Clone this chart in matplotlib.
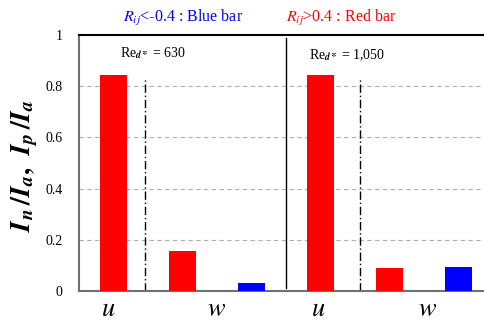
import matplotlib
matplotlib.use("Agg")
import matplotlib.pyplot as plt
import numpy as np

plt.rcParams['font.family'] = ['Liberation Serif', 'DejaVu Serif']
plt.rcParams['mathtext.fontset'] = 'stix'

# bar slots: u, w(red), w(blue) for each Re
heights = [0.844, 0.156, 0.031, 0.844, 0.091, 0.094]
colors = ['#ff0000', '#ff0000', '#0000ff', '#ff0000', '#ff0000', '#0000ff']
comp_labels = ['$u$', '$w$', '$u$', '$w$']
comp_pos = [-0.08, 1.5, 2.97, 4.55]
re_labels = [r'Re$_{\mathbfit{d*}}$ = 630', r'Re$_{\mathbfit{d*}}$ = 1,050']
yticks = [0, 0.2, 0.4, 0.6, 0.8, 1]

fig = plt.figure(figsize=(4.84, 3.23), dpi=100)
ax = fig.add_axes([0.1632, 0.0991, 0.8554, 0.7925])

x = np.arange(len(heights))
ax.bar(x, heights, width=0.4, color=colors, zorder=3)

ax.set_xlim(-0.5, 5.5)
ax.set_ylim(0, 1)
ax.set_yticks(yticks)
ax.set_yticklabels(['0', '0.2', '0.4', '0.6', '0.8', '1'], fontsize=10)
ax.yaxis.grid(True, color='#b0b0b0', linestyle=(0, (4, 3)), linewidth=0.8, zorder=0)
ax.tick_params(axis='y', length=0, pad=12)
ax.set_xticks(comp_pos)
ax.set_xticklabels(comp_labels, fontsize=19)
ax.tick_params(axis='x', length=0, pad=6)

ax.spines['left'].set_color('#707070')
ax.spines['left'].set_linewidth(1.5)
ax.spines['bottom'].set_color('#707070')
ax.spines['bottom'].set_linewidth(1.5)
ax.spines['top'].set_color('black')
ax.spines['top'].set_linewidth(1.5)
ax.spines['right'].set_visible(False)

# separators
ax.axvline(0.45, ymin=0, ymax=0.83, color='black', linestyle=(0, (6, 2, 1, 2)), linewidth=1)
ax.axvline(3.57, ymin=0, ymax=0.83, color='black', linestyle=(0, (6, 2, 1, 2)), linewidth=1)
ax.axvline(2.5, ymin=0.01, ymax=0.99, color='black', linewidth=1)

ax.text(0.09, 0.93, re_labels[0], fontsize=10, va='center', ha='left')
ax.text(2.84, 0.92, re_labels[1], fontsize=10, va='center', ha='left')

ax.set_ylabel(r'$\mathbfit{I}_{\mathbfit{n}}\,\mathbf{/}\mathbfit{I}_{\mathbfit{a}}\mathbf{,}\ \ \mathbfit{I}_{\mathbfit{p}}\,\mathbf{/}\mathbfit{I}_{\mathbfit{a}}$',
              fontsize=20)
ax.yaxis.set_label_coords(-0.094, 0.49)

fig.text(0.255, 0.945, r'$R_{ij}$<-0.4 : Blue bar', color='#0000ff', fontsize=11.5, ha='left', va='center')
fig.text(0.59, 0.945, r'$R_{ij}$>0.4 : Red bar', color='#ff0000', fontsize=11.5, ha='left', va='center')

fig.savefig('out.png', dpi=100)
